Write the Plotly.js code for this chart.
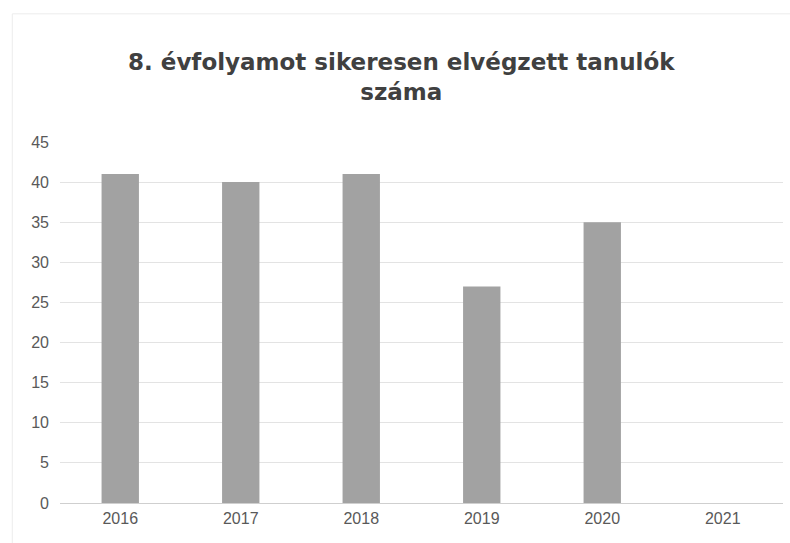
<!DOCTYPE html>
<html>
<head>
<meta charset="utf-8">
<script src="https://cdn.plot.ly/plotly-3.0.1.min.js"></script>
<style>html,body{margin:0;padding:0;background:#fff;}#chart{width:790px;height:543px;}</style>
</head>
<body>
<div id="chart"></div>
<script>
const categories = ["2016", "2017", "2018", "2019", "2020", "2021"];
const values = [41, 40, 41, 27, 35, 0];
const yTicks = [0, 5, 10, 15, 20, 25, 30, 35, 40, 45];
const titleText = "8. évfolyamot sikeresen elvégzett tanulók<br>száma";

const trace = {
  type: "bar",
  x: categories,
  y: values,
  marker: {color: "#a2a2a2", line: {color: "#8f8f8f", width: 0}},
  hoverinfo: "x+y"
};

const layout = {
  width: 790,
  height: 543,
  paper_bgcolor: "#ffffff",
  plot_bgcolor: "#ffffff",
  margin: {l: 60, r: 7, t: 142, b: 40},
  bargap: 0.69,
  showlegend: false,
  title: {
    text: titleText,
    font: {family: "'DejaVu Sans', sans-serif", size: 23, color: "#404040", weight: "bold"},
    x: 0.508,
    xanchor: "center",
    xref: "container",
    yref: "container",
    y: 1 - 70 / 543,
    yanchor: "top"
  },
  xaxis: {
    type: "category",
    tickfont: {family: "'Liberation Sans', Arial, sans-serif", size: 16, color: "#595959"},
    showgrid: false,
    showline: false,
    ticks: "",
    ticklabelstandoff: 4
  },
  yaxis: {
    range: [0, 45],
    tickvals: yTicks,
    ticktext: yTicks.map(String),
    tickfont: {family: "'Liberation Sans', Arial, sans-serif", size: 16, color: "#595959"},
    showgrid: true,
    gridcolor: "#e3e3e3",
    gridwidth: 1,
    zeroline: true,
    zerolinecolor: "#cfcfcf",
    zerolinewidth: 1,
    showline: false,
    ticks: "",
    ticklabelstandoff: 10
  },
  shapes: [{
    type: "rect", xref: "paper", yref: "paper",
    x0: -0.066, x1: 1.02, y0: -0.15, y1: 1.355,
    line: {color: "#ececec", width: 1}, fillcolor: "rgba(0,0,0,0)", layer: "below"
  }]
};

Plotly.newPlot("chart", [trace], layout, {displayModeBar: false, staticPlot: true});
</script>
</body>
</html>
